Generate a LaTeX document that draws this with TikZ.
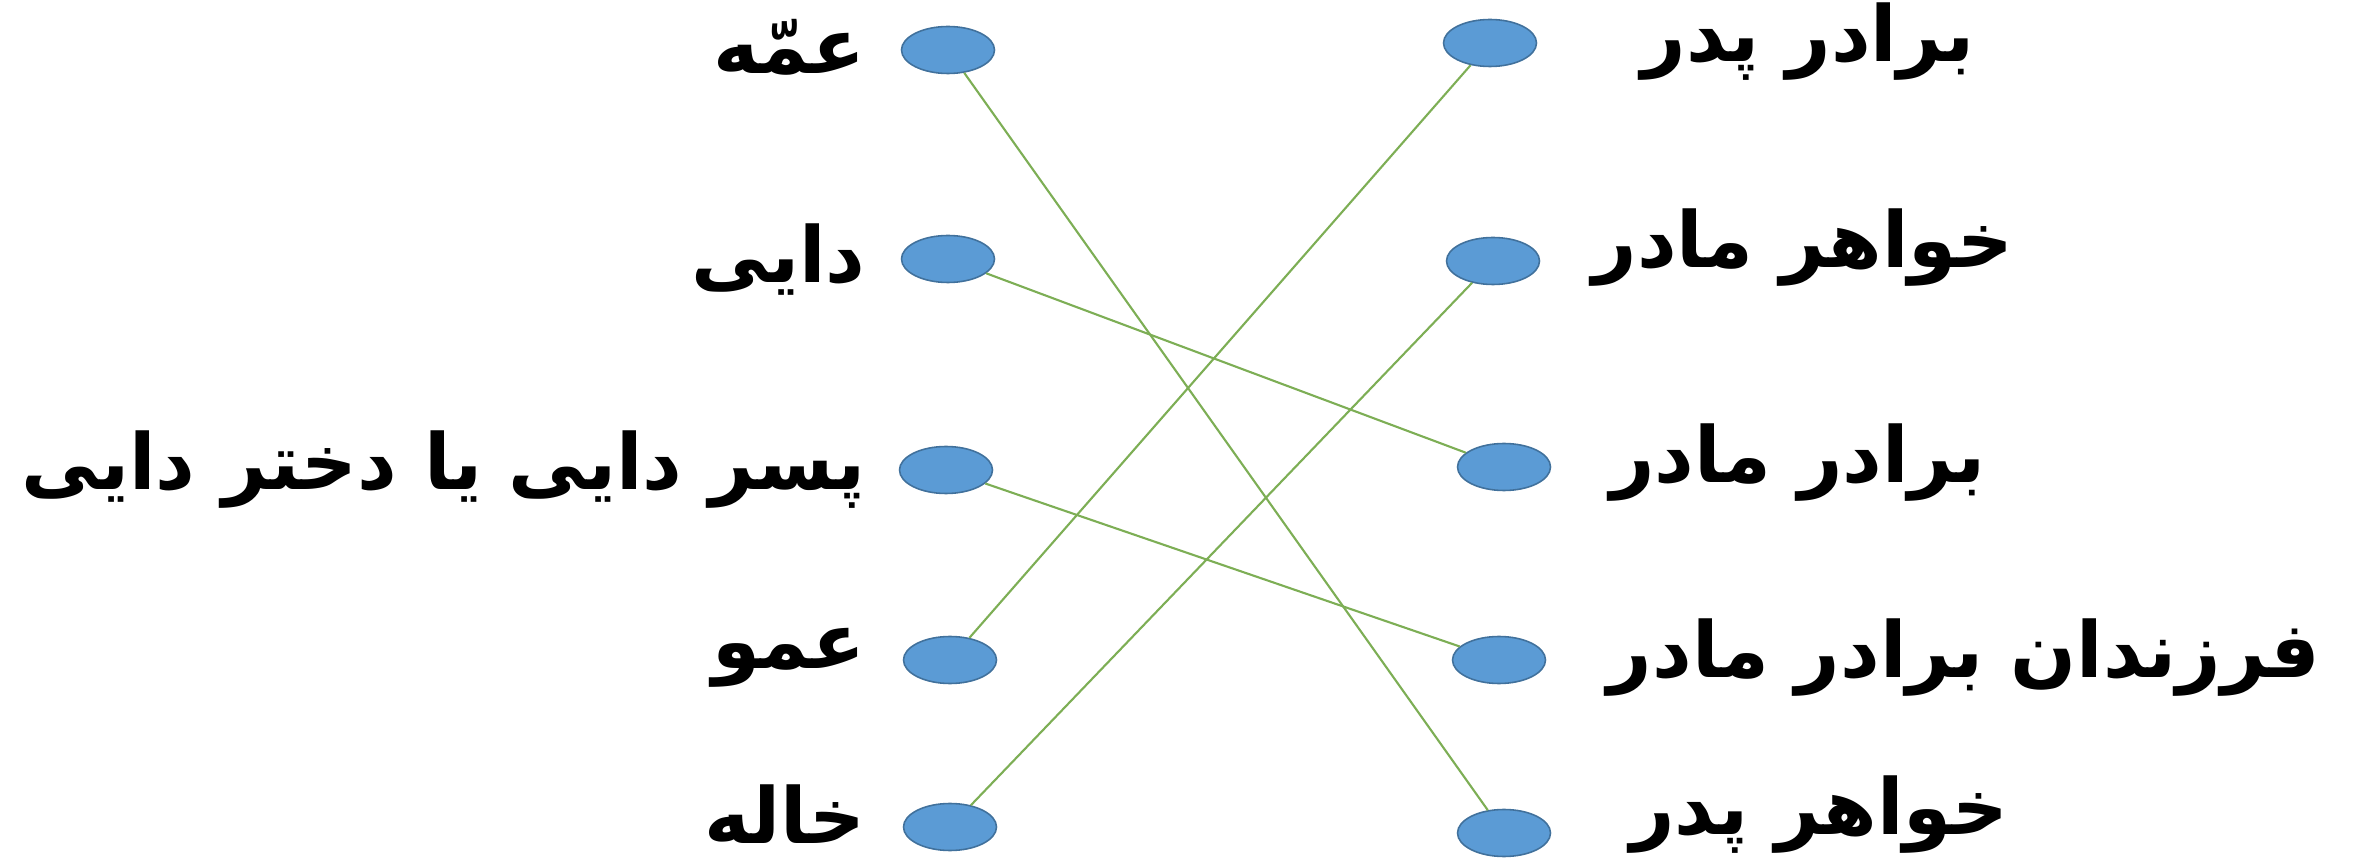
\documentclass[tikz,border=0pt]{standalone}
\usepackage{fontspec}
\usetikzlibrary{shapes.geometric}
\TeXXeTstate=1
\newfontfamily\arabicfont[Script=Arabic]{DejaVu Sans}
\definecolor{dotfill}{HTML}{5B9BD5}
\definecolor{dotline}{HTML}{41719C}
\definecolor{linkgreen}{HTML}{7DAE55}
\tikzset{
  dot/.style={ellipse, fill=dotfill, draw=dotline, line width=0.45pt, minimum width=9.3mm, minimum height=4.7mm, inner sep=0pt},
  lbl/.style={font=\arabicfont\bfseries\fontsize{22pt}{26pt}\selectfont, inner sep=0pt},
  link/.style={draw=linkgreen, line width=0.6pt}
}
\begin{document}
\begin{tikzpicture}[x=0.1mm,y=-0.1mm]
\useasboundingbox (0,0) rectangle (2358,860);
% left dots
\node[dot] (l1) at (948,50) {};
\node[dot] (l2) at (948,259) {};
\node[dot] (l3) at (946,470) {};
\node[dot] (l4) at (950,660) {};
\node[dot] (l5) at (950,827) {};
% right dots
\node[dot] (r1) at (1490,43) {};
\node[dot] (r2) at (1493,261) {};
\node[dot] (r3) at (1504,467) {};
\node[dot] (r4) at (1499,660) {};
\node[dot] (r5) at (1504,833) {};
% left labels
\node[lbl, anchor=east] (t1) at (866,47) {\beginR عمّه\endR};
\node[lbl, anchor=east] (t2) at (866,260) {\beginR دایی\endR};
\node[lbl, anchor=east] (t3) at (866,470) {\beginR پسر دایی یا دختر دایی\endR};
\node[lbl, anchor=east] (t4) at (866,658) {\beginR عمو\endR};
\node[lbl, anchor=east] (t5) at (866,814) {\beginR خاله\endR};
% right labels
\node[lbl] (s1) at (1808,42) {\beginR برادر پدر\endR};
\node[lbl] (s2) at (1803,248) {\beginR خواهر مادر\endR};
\node[lbl] (s3) at (1798,463) {\beginR برادر مادر\endR};
\node[lbl] (s4) at (1964,658) {\beginR فرزندان برادر مادر\endR};
\node[lbl] (s5) at (1819,815) {\beginR خواهر پدر\endR};
% links
\draw[link] (l1) -- (r5);
\draw[link] (l2) -- (r3);
\draw[link] (l3) -- (r4);
\draw[link] (l4) -- (r1);
\draw[link] (l5) -- (r2);
\end{tikzpicture}
\end{document}
